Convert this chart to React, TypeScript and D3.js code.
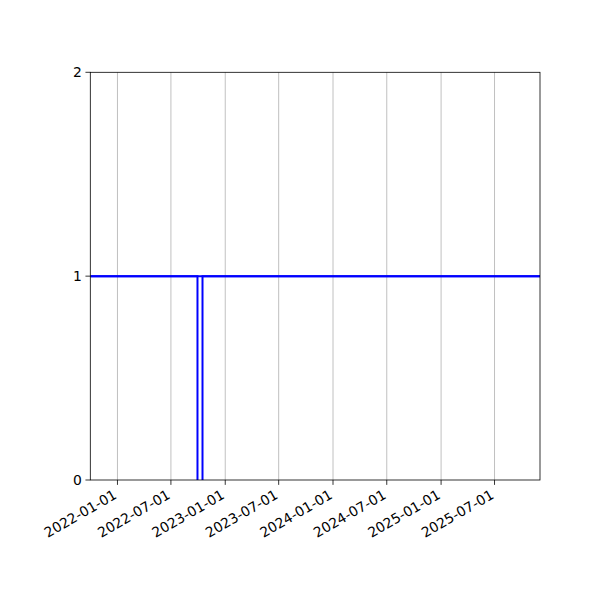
import React from "react";
import * as d3 from "d3";

// dip series (step): drops below the visible range between the two dates
const stepDates: string[] = ["2021-10-01", "2022-09-29", "2022-10-16", "2025-12-02"];
const stepValues: number[] = [1, -0.1, 1, 1];
// constant level line across the whole period
const levelDates: string[] = ["2021-10-01", "2025-12-02"];
const levelValues: number[] = [1, 1];
const xTickLabels: string[] = [
  "2022-01-01", "2022-07-01", "2023-01-01", "2023-07-01",
  "2024-01-01", "2024-07-01", "2025-01-01", "2025-07-01",
];
const yTickValues: number[] = [0, 1, 2];
const xDomain: string[] = ["2021-10-01", "2025-12-02"];

const W = 600, H = 600;
const M = { left: 90.3, right: 540, top: 72.3, bottom: 480 };
const FONT = "DejaVu Sans, sans-serif";
const FS = 13.9;

export default function App() {
  const parse = (s: string) => new Date(s + "T00:00:00Z");
  const x = d3.scaleUtc().domain(xDomain.map(parse)).range([M.left, M.right]);
  const y = d3.scaleLinear().domain([0, 2]).range([M.bottom, M.top]);
  const mk = (ds: string[], vs: number[]) =>
    ds.map((d, i) => [x(parse(d)), y(vs[i])] as [number, number]);
  const stepPath = d3.line().curve(d3.curveStepAfter)(mk(stepDates, stepValues)) || "";
  const levelPath = d3.line()(mk(levelDates, levelValues)) || "";

  return (
    <svg width={W} height={H} style={{ position: "absolute", left: 0, top: 0, background: "#fff" }}>
      <defs>
        <clipPath id="clip">
          <rect x={M.left} y={M.top} width={M.right - M.left} height={M.bottom - M.top} />
        </clipPath>
      </defs>
      {xTickLabels.map((t) => {
        const xx = x(parse(t));
        return <line key={"g" + t} x1={xx} x2={xx} y1={M.top} y2={M.bottom} stroke="#b0b0b0" strokeWidth={0.8} />;
      })}
      <path d={stepPath} fill="none" stroke="#0000ff" strokeWidth={2} clipPath="url(#clip)" />
      <path d={levelPath} fill="none" stroke="#0000ff" strokeWidth={2} clipPath="url(#clip)" />
      <rect x={M.left} y={M.top} width={M.right - M.left} height={M.bottom - M.top} fill="none" stroke="#000" strokeWidth={0.8} />
      {xTickLabels.map((t) => {
        const xx = x(parse(t));
        return (
          <g key={"t" + t}>
            <line x1={xx} x2={xx} y1={M.bottom} y2={M.bottom + 4.86} stroke="#000" strokeWidth={0.8} />
            <text
              transform={`translate(${xx - 5},${M.bottom + 8.5}) rotate(-30)`}
              textAnchor="end"
              dy="0.76em"
              fontFamily={FONT}
              fontSize={FS}
              fill="#000"
            >
              {t}
            </text>
          </g>
        );
      })}
      {yTickValues.map((v) => (
        <g key={"y" + v}>
          <line x1={M.left - 4.86} x2={M.left} y1={y(v)} y2={y(v)} stroke="#000" strokeWidth={0.8} />
          <text x={M.left - 8.4} y={y(v)} dy="0.35em" textAnchor="end" fontFamily={FONT} fontSize={FS} fill="#000">
            {v}
          </text>
        </g>
      ))}
    </svg>
  );
}
